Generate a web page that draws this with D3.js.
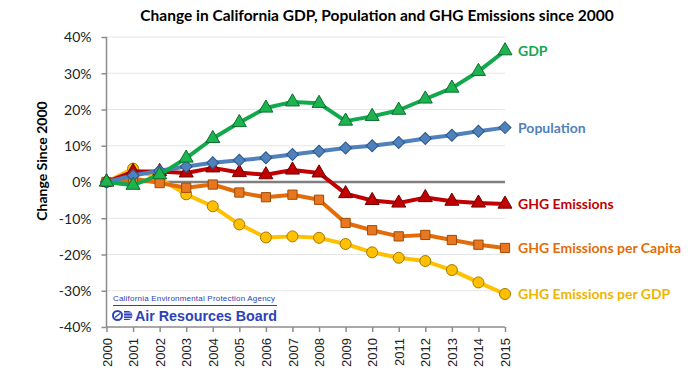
<!DOCTYPE html>
<html>
<head>
<meta charset="utf-8">
<script src="https://cdn.jsdelivr.net/npm/d3@7"></script>
<style>
  body { margin: 0; background: #fff; }
  svg { display: block; }
  .tick text { font-family: Lato, sans-serif; }
</style>
</head>
<body>
<script>
//chart values
var years = [2000, 2001, 2002, 2003, 2004, 2005, 2006, 2007, 2008, 2009, 2010, 2011, 2012, 2013, 2014, 2015];
var gdp = [0, -0.9, 2.0, 6.6, 12.0, 16.4, 20.4, 22.1, 21.7, 16.8, 18.1, 19.8, 22.9, 25.9, 30.5, 36.2];
var population = [0, 1.8, 3.1, 4.3, 5.3, 6.0, 6.7, 7.6, 8.5, 9.4, 10.0, 10.9, 12.0, 12.9, 14.0, 15.0];
var ghg = [0, 2.9, 2.9, 2.5, 3.9, 2.6, 2.0, 3.3, 2.5, -3.2, -5.1, -5.8, -4.3, -5.3, -5.8, -6.1];
var ghgPerCapita = [0, 1.0, -0.3, -1.6, -0.7, -2.9, -4.2, -3.5, -4.9, -11.3, -13.3, -15.0, -14.6, -16.0, -17.3, -18.2];
var ghgPerGdp = [0, 3.7, 0.9, -3.4, -6.7, -11.7, -15.3, -15.0, -15.4, -17.1, -19.4, -20.9, -21.8, -24.3, -27.7, -30.9];
var yTicks = [-40, -30, -20, -10, 0, 10, 20, 30, 40];

//series styling, drawn bottom to top
var series = [
    {name: "GHG Emissions per GDP", values: ghgPerGdp, line: "#ffc000", fill: "#ffc000", stroke: "#a07800", text: "#f0b400", shape: "circle"},
    {name: "GHG Emissions per Capita", values: ghgPerCapita, line: "#e36c09", fill: "#e87722", stroke: "#a04a00", text: "#e36c09", shape: "square"},
    {name: "GHG Emissions", values: ghg, line: "#c00000", fill: "#c00000", stroke: "#700000", text: "#c00000", shape: "triangle"},
    {name: "Population", values: population, line: "#4f81bd", fill: "#4f81bd", stroke: "#2c5687", text: "#4f81bd", shape: "diamond"},
    {name: "GDP", values: gdp, line: "#12a84c", fill: "#1db34f", stroke: "#0b6e2e", text: "#12a84c", shape: "triangle"}
];

var width = 700,
    height = 385;

var svg = d3.select("body")
    .append("svg")
    .attr("width", width)
    .attr("height", height);

var x = d3.scaleLinear()
    .domain([2000, 2015])
    .range([106.5, 505]);

var y = d3.scaleLinear()
    .domain([-40, 40])
    .range([327, 37]);

//title
svg.append("text")
    .attr("x", 377)
    .attr("y", 21)
    .attr("text-anchor", "middle")
    .style("font-family", "Lato, sans-serif")
    .style("font-weight", "bold")
    .style("font-size", "15.5px")
    .text("Change in California GDP, Population and GHG Emissions since 2000");

//y axis title
svg.append("text")
    .attr("transform", "translate(47,161) rotate(-90)")
    .attr("text-anchor", "middle")
    .style("font-family", "Lato, sans-serif")
    .style("font-weight", "bold")
    .style("font-size", "14px")
    .text("Change Since 2000");

//horizontal gridlines
svg.append("g")
    .selectAll("line")
    .data(yTicks.filter(function(d) { return d !== -40 && d !== 0; }))
    .enter()
    .append("line")
    .attr("x1", x(2000))
    .attr("x2", x(2015))
    .attr("y1", function(d) { return y(d); })
    .attr("y2", function(d) { return y(d); })
    .attr("stroke", "#e6e6e6")
    .attr("stroke-width", 1);

//y axis
var yAxis = svg.append("g")
    .attr("transform", "translate(" + x(2000) + ",0)")
    .call(d3.axisLeft(y).tickValues(yTicks).tickSize(5).tickPadding(10)
        .tickFormat(function(d) { return d + "%"; }));
yAxis.selectAll("line, path").attr("stroke", "#8c8c8c").attr("stroke-width", 1.5);
yAxis.select(".domain").attr("d", "M0," + y(40) + "V" + y(-40));
yAxis.selectAll("text").style("font-size", "14px").attr("fill", "#222").attr("dy", "0.35em");

//x axis
var xAxis = svg.append("g")
    .attr("transform", "translate(0," + y(-40) + ")")
    .call(d3.axisBottom(x).tickValues(years).tickSize(5).tickFormat(d3.format("d")));
xAxis.selectAll("line, path").attr("stroke", "#8c8c8c").attr("stroke-width", 1.5);
xAxis.select(".domain").attr("d", "M" + x(2000) + ",0H" + x(2015));
xAxis.selectAll("text")
    .style("font-family", "'Liberation Sans', Arial, sans-serif")
    .style("font-size", "13px")
    .attr("fill", "#222")
    .attr("transform", "rotate(-90)")
    .attr("text-anchor", "end")
    .attr("x", -11)
    .attr("y", 0)
    .attr("dy", "0.35em");

//zero line
svg.append("line")
    .attr("x1", x(2000))
    .attr("x2", x(2015))
    .attr("y1", y(0))
    .attr("y2", y(0))
    .attr("stroke", "#7f7f7f")
    .attr("stroke-width", 2.5);

//logo block
var logo = svg.append("g").attr("class", "logo");
logo.append("text")
    .attr("x", 113)
    .attr("y", 301)
    .attr("textLength", 162)
    .attr("lengthAdjust", "spacing")
    .style("font-family", "'Liberation Sans', Arial, sans-serif")
    .style("font-size", "8px")
    .attr("fill", "#2b43b8")
    .text("California Environmental Protection Agency");
logo.append("line")
    .attr("x1", 113).attr("x2", 277)
    .attr("y1", 305.5).attr("y2", 305.5)
    .attr("stroke", "#2b43b8").attr("stroke-width", 1.2);
logo.append("circle")
    .attr("cx", 117.5).attr("cy", 315.5).attr("r", 4.5)
    .attr("fill", "none").attr("stroke", "#2b43b8").attr("stroke-width", 2);
logo.append("line")
    .attr("x1", 115).attr("x2", 120).attr("y1", 317.5).attr("y2", 313.5)
    .attr("stroke", "#2b43b8").attr("stroke-width", 1.5);
logo.append("path")
    .attr("d", "M124,311H128A4.5,4.5 0 0 1 128,320H124Z")
    .attr("fill", "#2b43b8");
[313, 316, 318.5].forEach(function(yy) {
    logo.append("line")
        .attr("x1", 123).attr("x2", 133).attr("y1", yy).attr("y2", yy)
        .attr("stroke", "#fff").attr("stroke-width", 0.8);
});
logo.append("text")
    .attr("x", 135)
    .attr("y", 321)
    .attr("textLength", 142)
    .attr("lengthAdjust", "spacingAndGlyphs")
    .style("font-family", "'Liberation Sans', Arial, sans-serif")
    .style("font-weight", "bold")
    .style("font-size", "15px")
    .attr("fill", "#2b43b8")
    .text("Air Resources Board");

//line generator
var line = d3.line()
    .x(function(d, i) { return x(years[i]); })
    .y(function(d) { return y(d); });

function markerPath(shape) {
    if (shape === "triangle") return d3.symbol().type(d3.symbolTriangle).size(85)();
    if (shape === "square") return d3.symbol().type(d3.symbolSquare).size(85)();
    if (shape === "diamond") return d3.symbol().type(d3.symbolSquare).size(72)();
    return d3.symbol().type(d3.symbolCircle).size(95)();
}

series.forEach(function(s) {
    var g = svg.append("g").attr("class", "series");

    g.append("path")
        .datum(s.values)
        .attr("fill", "none")
        .attr("stroke", s.line)
        .attr("stroke-width", 4)
        .attr("stroke-linejoin", "round")
        .attr("d", line);

    g.selectAll(".marker")
        .data(s.values)
        .enter()
        .append("path")
        .attr("class", "marker")
        .attr("d", markerPath(s.shape))
        .attr("transform", function(d, i) {
            var t = "translate(" + x(years[i]) + "," + y(d) + ")";
            return s.shape === "diamond" ? t + " rotate(45)" : t;
        })
        .attr("fill", s.fill)
        .attr("stroke", s.stroke)
        .attr("stroke-width", 1);

    //end label
    svg.append("text")
        .attr("x", x(2015) + 13)
        .attr("y", y(s.values[s.values.length - 1]))
        .attr("dy", "0.35em")
        .style("font-family", "Lato, sans-serif")
        .style("font-weight", "bold")
        .style("font-size", "14px")
        .attr("fill", s.text)
        .text(s.name);
});
</script>
</body>
</html>
